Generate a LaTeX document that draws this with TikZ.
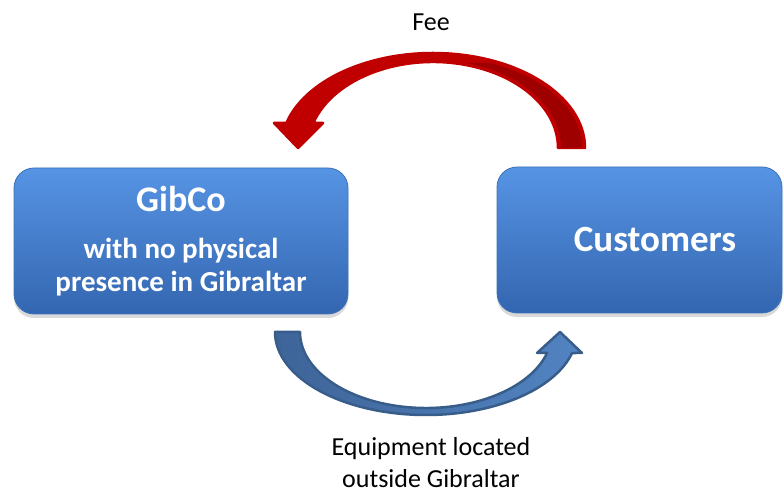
\documentclass[tikz,border=0pt]{standalone}
\usepackage{fontspec}
\setmainfont{Carlito}
\usetikzlibrary{shadows}

\definecolor{boxtop}{RGB}{86,148,228}
\definecolor{boxbot}{RGB}{52,102,176}
\definecolor{boxedge}{RGB}{60,112,186}
\definecolor{feered}{RGB}{192,0,0}
\definecolor{feedark}{RGB}{158,0,0}
\definecolor{eqedge}{RGB}{56,93,138}
\definecolor{eqdark}{RGB}{62,100,152}
\definecolor{eqlight}{RGB}{82,132,194}

\begin{document}
\begin{tikzpicture}
    [
        x=1pt, y=1pt,
        party/.style={rectangle, rounded corners=20pt, draw=boxedge, line width=0.8pt,
            top color=boxtop, bottom color=boxbot, text=white,
            minimum height=146pt, align=center,
            drop shadow={opacity=0.3, shadow xshift=0pt, shadow yshift=-4pt},},
        flowlabel/.style={font=\fontsize{26}{31}\selectfont, align=center, anchor=base, inner sep=0pt,},
        feearrow/.style={fill=feered, draw=feered, line width=2.5pt, line join=round,},
        eqarrow/.style={left color=eqdark, right color=eqlight, draw=eqedge, line width=2.5pt, line join=round,},
    ]
    \useasboundingbox (0,0) rectangle (784,495);

    % the two parties
    \node (gibco) at (181,254)   [party, minimum width=334pt, font=\bfseries\fontsize{29}{33}\selectfont]
        {{\fontsize{36}{44}\selectfont GibCo}\\[14pt] with no physical\\ presence in Gibraltar};
    \node (cust)  at (639.5,255) [party, minimum width=285pt, font=\bfseries\fontsize{37}{44}\selectfont]
        {\hspace*{31pt}Customers};

    % labels of the two flows
    \node (fee)   at (431,464)   [flowlabel] {Fee};
    \node (equip) at (431,8)     [flowlabel] {Equipment located\\ outside Gibraltar};

    \coordinate (feecentre) at (433,347);
    \coordinate (eqcentre)  at (426,163);

    % fee arrow
    \begin{scope}[shift={(feecentre)}]
        \path [feearrow] (152,0)
            arc [start angle=0, end angle=164.7, x radius=152, y radius=95]
            -- (-159,25) -- (-135,0) -- (-110,25) -- (-119.6,25)
            arc [start angle=163.1, end angle=0, x radius=125, y radius=86] -- cycle;
        \fill [feedark] (128,0)
            arc [start angle=0, end angle=75, x radius=128, y radius=88]
            -- (57,85)
            arc [start angle=68, end angle=0, x radius=147, y radius=91] -- cycle;
    \end{scope}

    % equipment arrow
    \begin{scope}[shift={(eqcentre)}]
        \path [eqarrow] (-151,0)
            arc [start angle=180, end angle=345.34, x radius=151, y radius=83]
            -- (156,-21) -- (134,0) -- (111,-21) -- (121.1,-21)
            arc [start angle=343.96, end angle=180, x radius=126, y radius=76] -- cycle;
    \end{scope}

\end{tikzpicture}
\end{document}
